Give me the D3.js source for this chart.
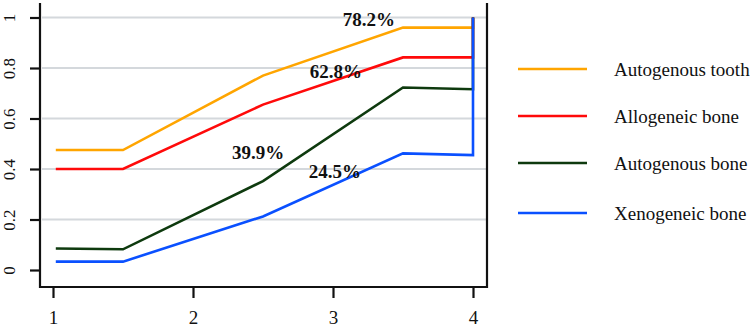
<!DOCTYPE html>
<html>
<head>
<meta charset="utf-8">
<script src="https://cdn.jsdelivr.net/npm/d3@7"></script>
<style>
body { margin: 0; background: #fff; }
text { font-family: "Liberation Serif", "Times New Roman", serif; fill: #111; }
.lbl { font-weight: bold; font-size: 19px; }
</style>
</head>
<body>
<script>
// x positions of the step points, last one closes up to 1 at x = 4
var xs = [1.02, 1.5, 2.5, 3.5, 4, 4];
var seriesNames = ["Autogenous tooth", "Allogeneic bone", "Autogenous bone", "Xenogeneic bone"];
var seriesColors = ["#FFA500", "#FF0A0A", "#0E3A0E", "#0A50FF"];
var tooth = [0.475, 0.475, 0.77, 0.96, 0.96, 1];
var allo = [0.40, 0.40, 0.655, 0.842, 0.842, 1];
var autoBone = [0.085, 0.082, 0.352, 0.723, 0.716, 1];
var xeno = [0.033, 0.033, 0.212, 0.462, 0.455, 1];
var labels = ["78.2%", "62.8%", "39.9%", "24.5%"];
var labelPos = [[3.256, 0.965], [3.02, 0.76], [2.465, 0.44], [3.013, 0.365]];
var yTicks = [0, 0.2, 0.4, 0.6, 0.8, 1];
var xTicks = [1, 2, 3, 4];

var values = [tooth, allo, autoBone, xeno];

var svg = d3.select("body").append("svg").attr("width", 751).attr("height", 330);

var x = d3.scaleLinear().domain([1, 4]).range([53, 473]);
var y = d3.scaleLinear().domain([0, 1]).range([270, 17.5]);

// gridlines
svg.append("g").selectAll("line").data(yTicks.filter(d => d > 0)).enter().append("line")
  .attr("x1", 42).attr("x2", 487)
  .attr("y1", d => y(d)).attr("y2", d => y(d))
  .attr("stroke", "#d4d8dc").attr("stroke-width", 2);

// frame: left, bottom, right
var frame = svg.append("g").attr("stroke", "#111").attr("stroke-width", 2.2).attr("fill", "none");
frame.append("path").attr("d", "M40,3V287H487V3");

// y axis
var gy = svg.append("g").attr("transform", "translate(40,0)")
  .call(d3.axisLeft(y).tickValues(yTicks).tickSize(10).tickFormat(d3.format("")));
gy.select(".domain").remove();
gy.selectAll(".tick line").attr("stroke", "#111").attr("stroke-width", 2.2);
gy.selectAll(".tick text").attr("font-size", 17).attr("font-family", "Liberation Serif")
  .attr("fill", "#111").attr("text-anchor", "middle")
  .attr("transform", "translate(-31,0) rotate(-90)")
  .attr("x", 0).attr("dy", "0.35em");

// x axis
var gx = svg.append("g").attr("transform", "translate(0,287)")
  .call(d3.axisBottom(x).tickValues(xTicks).tickSize(11).tickFormat(d3.format("d")));
gx.select(".domain").remove();
gx.selectAll(".tick line").attr("stroke", "#111").attr("stroke-width", 2.2);
gx.selectAll(".tick text").attr("font-size", 19).attr("font-family", "Liberation Serif")
  .attr("fill", "#111").attr("dy", "1.2em");

// lines
var line = d3.line().x((d, i) => x(xs[i])).y(d => y(d));
svg.append("g").selectAll("path").data(values).enter().append("path")
  .attr("d", d => line(d))
  .attr("fill", "none")
  .attr("stroke", (d, i) => seriesColors[i])
  .attr("stroke-width", 2.6);

// percentage labels
svg.append("g").selectAll("text").data(labels).enter().append("text")
  .attr("class", "lbl")
  .attr("x", (d, i) => x(labelPos[i][0]))
  .attr("y", (d, i) => y(labelPos[i][1]))
  .attr("text-anchor", "middle")
  .text(d => d);

// legend
var leg = svg.append("g").selectAll("g").data(seriesNames).enter().append("g")
  .attr("transform", (d, i) => "translate(0," + [69, 116, 163, 213][i] + ")");
leg.append("line").attr("x1", 518).attr("x2", 587)
  .attr("stroke", (d, i) => seriesColors[i]).attr("stroke-width", 2.6);
leg.append("text").attr("x", 614).attr("dy", "0.35em")
  .attr("font-size", 19).text(d => d);
</script>
</body>
</html>
